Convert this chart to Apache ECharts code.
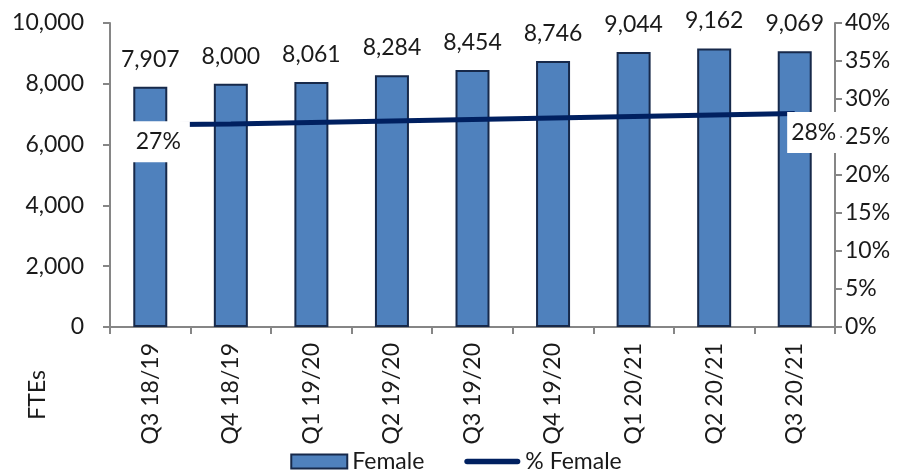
<!DOCTYPE html>
<html>
<head>
<meta charset="utf-8">
<script src="https://cdn.jsdelivr.net/npm/echarts@6/dist/echarts.min.js"></script>
<style>
  html, body { margin: 0; padding: 0; background: #fff; }
  #chart { width: 912px; height: 476px; }
</style>
</head>
<body>
<div id="chart"></div>
<script>
var quarters = ['Q3 18/19', 'Q4 18/19', 'Q1 19/20', 'Q2 19/20', 'Q3 19/20',
                'Q4 19/20', 'Q1 20/21', 'Q2 20/21', 'Q3 20/21'];
var femaleFtes = [7907, 8000, 8061, 8284, 8454, 8746, 9044, 9162, 9069];
var pctFemale = [0.266, 0.267, 0.269, 0.271, 0.273, 0.275, 0.277, 0.279, 0.281];
var pctLabels = ['27%', '', '', '', '', '', '', '', '28%'];

var font = 'Lato';
var fs = 23;
var axisGrey = '#868686';
var textCol = '#1a1a1a';

var chart = echarts.init(document.getElementById('chart'));

var lineData = pctFemale.map(function (v, i) {
  var item = { value: v };
  if (i === 0) {
    item.label = { show: true, formatter: pctLabels[i], offset: [8, 17], padding: [9, 9, 9, 9] };
  } else if (i === pctFemale.length - 1) {
    item.label = { show: true, formatter: pctLabels[i], offset: [19, 19], padding: [9, 4, 9, 4] };
  }
  return item;
});

var option = {
  animation: false,
  textStyle: { fontFamily: font },
  grid: { left: 110, right: 77, top: 23, bottom: 149 },
  legend: {
    bottom: -2,
    left: 'center',
    itemWidth: 56,
    itemHeight: 14,
    itemGap: 40,
    textStyle: { fontFamily: font, fontSize: fs, color: textCol },
    data: [
      { name: 'Female', icon: 'rect' },
      { name: '% Female', icon: 'path://M3,0 L57,0 A3,3 0 0 1 57,6 L3,6 A3,3 0 0 1 3,0 Z' }
    ]
  },
  graphic: [{
    type: 'text',
    left: 26,
    top: 370,
    rotation: Math.PI / 2,
    style: { text: 'FTEs', font: fs + 'px ' + font, fill: textCol }
  }],
  xAxis: {
    type: 'category',
    data: quarters,
    axisLine: { lineStyle: { color: axisGrey, width: 2 } },
    axisTick: { show: true, length: 7, lineStyle: { color: axisGrey, width: 2 } },
    axisLabel: { rotate: 90, fontSize: fs, color: textCol, margin: 16, interval: 0 }
  },
  yAxis: [{
    type: 'value',
    min: 0, max: 10000, interval: 2000,
    splitLine: { show: false },
    axisLine: { show: true, lineStyle: { color: axisGrey, width: 2 } },
    axisTick: { show: true, length: 7, lineStyle: { color: axisGrey, width: 2 } },
    axisLabel: {
      fontSize: fs, color: textCol, margin: 26,
      formatter: function (v) { return v.toLocaleString('en-US'); }
    }
  }, {
    type: 'value',
    min: 0, max: 0.4, interval: 0.05,
    splitLine: { show: false },
    axisLine: { show: true, lineStyle: { color: axisGrey, width: 2 } },
    axisTick: { show: true, length: 7, lineStyle: { color: axisGrey, width: 2 } },
    axisLabel: {
      fontSize: fs, color: textCol, margin: 10,
      formatter: function (v) { return Math.round(v * 100) + '%'; }
    }
  }],
  series: [{
    name: 'Female',
    type: 'bar',
    data: femaleFtes,
    barWidth: 34,
    itemStyle: { color: '#4f81bd', borderColor: '#17294a', borderWidth: 2 },
    label: {
      show: true, position: 'top', distance: 16,
      fontSize: fs, color: textCol,
      formatter: function (p) { return p.value.toLocaleString('en-US'); }
    }
  }, {
    name: '% Female',
    type: 'line',
    yAxisIndex: 1,
    data: lineData,
    symbol: 'circle',
    symbolSize: 0.1,
    lineStyle: { color: '#002060', width: 5 },
    itemStyle: { color: '#002060' },
    label: {
      show: false,
      position: 'inside',
      fontSize: fs,
      color: textCol,
      backgroundColor: '#ffffff'
    },
    z: 3
  }]
};

chart.setOption(option);
</script>
</body>
</html>
